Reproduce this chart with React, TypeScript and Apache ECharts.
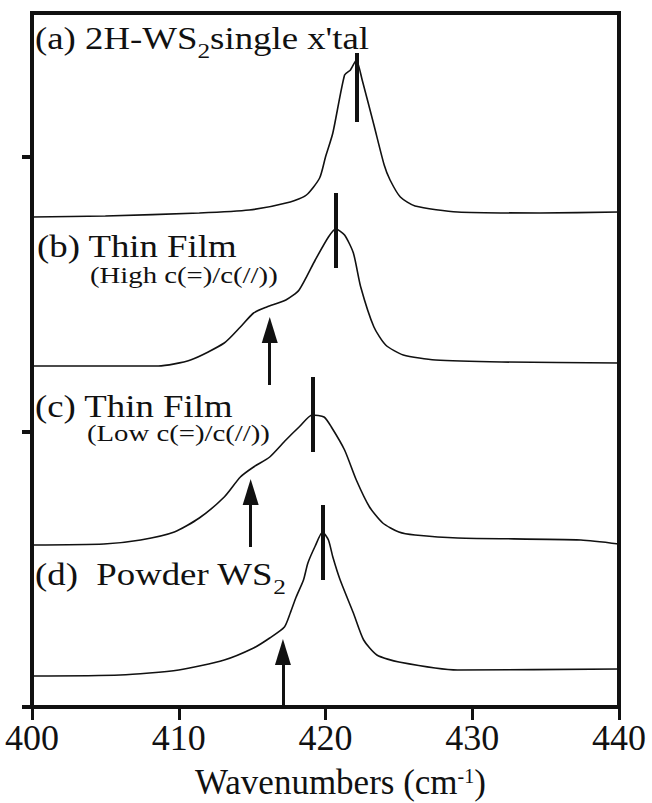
import { useEffect, useRef } from "react";
import * as echarts from "echarts";

// Axis ticks
const xTickValues = [400, 410, 420, 430, 440];
const yTickValues = [0, 275, 550];

// Raman E2g/A1g region: wavenumber (cm-1) and intensity above each trace's own baseline
const wnA = [400, 405, 411.4, 414.8, 417.6, 418.7, 419.6, 420.0, 420.5, 421.3, 421.7, 422.1, 422.5, 423.3, 424.0, 424.4, 425.1, 426.1, 429.0, 434.6, 440];
const intA = [0, 1, 4, 7, 15, 22, 39, 60, 84, 142, 147, 157, 137, 92, 52, 37, 20, 11, 5, 4, 5];

const wnB = [400, 408.6, 410.8, 413.1, 414.2, 415.1, 416.0, 417.3, 418.2, 419.3, 420.2, 420.7, 421.3, 421.9, 422.4, 423.3, 424.1, 425.3, 427.5, 432, 440];
const intB = [0, 0, 6, 23, 39, 53, 59, 66, 76, 106, 129, 137, 131, 113, 79, 39, 21, 11, 6, 4, 3];

const wnC = [400, 404.9, 407.4, 409.7, 411.4, 413.1, 414.2, 415.1, 416.2, 417.3, 418.2, 419.1, 419.9, 420.4, 421.3, 422.1, 423.0, 423.9, 425.0, 426.1, 429.0, 437.4, 440];
const intC = [0, 1, 5, 13, 27, 48, 68, 78, 88, 105, 118, 130, 128, 118, 95, 65, 38, 22, 13, 10, 7, 5, 1];

const wnD = [400, 406.0, 410.0, 413.1, 415.1, 416.2, 417.2, 417.6, 418.0, 418.5, 418.8, 419.3, 419.8, 420.2, 420.5, 421.0, 421.9, 422.6, 423.5, 425.0, 429.0, 440];
const intD = [0, 1, 6, 16, 28, 38, 49, 63, 79, 96, 113, 130, 144, 136, 119, 96, 63, 36, 21, 14, 6, 7];

// Vertical offset of each trace in the stack
const traceOffsets = [490, 341, 162, 31];

// Main peak positions and the extent of the bar drawn through each
const peakPositions = [422.1, 420.7, 419.1, 419.8];
const peakBarSpans = [
  [585, 654],
  [439, 514],
  [255, 330],
  [127, 202],
];

// Low-frequency shoulder positions, arrow tail and tip
const shoulderPositions = [null, 416.2, 414.9, 417.1];
const shoulderArrowSpans = [null, [322, 389], [160, 227], [0, 67]];

const traces = [
  { wn: wnA, intensity: intA },
  { wn: wnB, intensity: intB },
  { wn: wnC, intensity: intC },
  { wn: wnD, intensity: intD },
];

const INK = "#111";
const SERIF = "'Liberation Serif', 'Times New Roman', Times, serif";

function buildOption(): echarts.EChartsCoreOption {
  const series = traces.map((t, i) => {
    const marks: any[] = [
      [
        { coord: [peakPositions[i], peakBarSpans[i][0]], symbol: "none", lineStyle: { color: INK, width: 4, type: "solid" } },
        { coord: [peakPositions[i], peakBarSpans[i][1]], symbol: "none" },
      ],
    ];
    const sx = shoulderPositions[i];
    const span = shoulderArrowSpans[i];
    if (sx !== null && span) {
      marks.push([
        { coord: [sx, span[0]], symbol: "none", lineStyle: { color: INK, width: 3, type: "solid" } },
        { coord: [sx, span[1] - 12], symbol: "triangle", symbolSize: [16, 26] },
      ]);
    }
    return {
      type: "line",
      data: t.wn.map((w, j) => [w, t.intensity[j] + traceOffsets[i]]),
      symbol: "none",
      smooth: 0.22,
      silent: true,
      lineStyle: { color: INK, width: 1.6 },
      emphasis: { disabled: true },
      markLine: {
        silent: true,
        symbol: ["none", "none"],
        label: { show: false },
        emphasis: { disabled: true },
        lineStyle: { color: INK, type: "solid" },
        data: marks,
      },
    };
  });

  // Main text hangs from the top of the line box; the subscript sits on the
  // bottom of a taller line box, which drops it below the main baseline.
  const subRich = {
    m: { fontSize: 32, lineHeight: 32, verticalAlign: "top", fontFamily: SERIF, fill: INK },
    s: { fontSize: 22, lineHeight: 40, verticalAlign: "bottom", fontFamily: SERIF, fill: INK },
  };

  const label = (x: number, y: number, text: string, size: number, sx: number) => ({
    type: "text",
    x,
    y,
    scaleX: sx,
    silent: true,
    style: {
      text,
      fontSize: size,
      lineHeight: size,
      fontFamily: SERIF,
      fill: INK,
      verticalAlign: "top",
    },
  });

  return {
    animation: false,
    backgroundColor: "#fff",
    grid: {
      left: 32,
      right: 33,
      top: 13,
      bottom: 96,
      show: true,
      borderColor: INK,
      borderWidth: 4,
      outerBoundsMode: "none",
    },
    xAxis: {
      type: "value",
      min: 400,
      max: 440,
      interval: 10,
      name: "{m|Wavenumbers (cm}{sup|-1}{m|)}",
      nameLocation: "middle",
      nameGap: 59,
      nameTextStyle: {
        fontFamily: SERIF,
        color: INK,
        fontSize: 35,
        padding: [0, 0, 0, 30],
        rich: {
          m: { fontSize: 35, lineHeight: 33, fontFamily: SERIF, color: INK },
          sup: { fontSize: 20, lineHeight: 22, verticalAlign: "top", fontFamily: SERIF, color: INK },
        },
      },
      axisLine: { show: true, lineStyle: { color: INK, width: 4 } },
      axisTick: { show: true, inside: false, length: 13, customValues: xTickValues, lineStyle: { color: INK, width: 3 } },
      axisLabel: { show: true, margin: 13, fontSize: 36, fontFamily: SERIF, color: INK, customValues: xTickValues },
      splitLine: { show: false },
    },
    yAxis: {
      type: "value",
      min: 0,
      max: 694,
      interval: 275,
      axisLine: { show: true, lineStyle: { color: INK, width: 4 } },
      axisTick: { show: true, inside: false, length: 10, customValues: yTickValues, lineStyle: { color: INK, width: 4 } },
      axisLabel: { show: false },
      splitLine: { show: false },
    },
    series,
    graphic: [
      {
        type: "text",
        x: 35,
        y: 22,
        scaleX: 1.15,
        silent: true,
        style: {
          text: "{m|(a) 2H-WS}{s|2}{m|single x'tal}",
          rich: subRich,
          verticalAlign: "top",
          fontFamily: SERIF,
          fontSize: 32,
          fill: INK,
        },
      },
      label(37, 230, "(b) Thin Film", 32, 1.15),
      label(90, 264, "(High c(=)/c(//))", 23, 1.25),
      label(35, 390, "(c) Thin Film", 32, 1.15),
      label(87, 422, "(Low c(=)/c(//))", 23, 1.25),
      {
        type: "text",
        x: 35,
        y: 558,
        scaleX: 1.15,
        silent: true,
        style: {
          text: "{m|(d)\u00a0 Powder WS}{s|2}",
          rich: subRich,
          verticalAlign: "top",
          fontFamily: SERIF,
          fontSize: 32,
          fill: INK,
        },
      },
    ],
  };
}

export default function App() {
  const ref = useRef<HTMLDivElement>(null);
  useEffect(() => {
    if (!ref.current) return;
    const chart = echarts.init(ref.current, undefined, { renderer: "svg" });
    chart.setOption(buildOption());
    return () => chart.dispose();
  }, []);
  return (
    <div
      ref={ref}
      style={{ position: "fixed", left: 0, top: 0, width: 652, height: 803, background: "#fff" }}
    />
  );
}
